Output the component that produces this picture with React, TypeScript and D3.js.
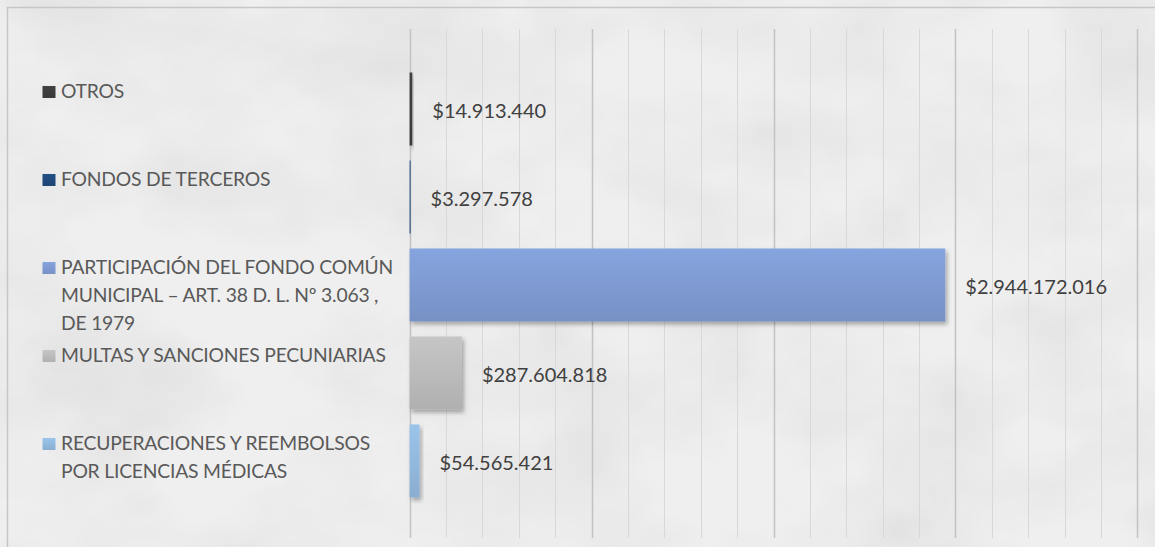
import React, { useEffect, useRef } from "react";
import * as d3 from "d3";

// categories, top to bottom as drawn
const categories = [
  "OTROS",
  "FONDOS DE TERCEROS",
  "PARTICIPACIÓN DEL FONDO COMÚN MUNICIPAL – ART. 38 D. L. Nº 3.063 , DE 1979",
  "MULTAS Y SANCIONES PECUNIARIAS",
  "RECUPERACIONES Y REEMBOLSOS POR LICENCIAS MÉDICAS",
];

// label text as it wraps in the picture
const labelLines = [
  ["OTROS"],
  ["FONDOS DE TERCEROS"],
  ["PARTICIPACIÓN DEL FONDO COMÚN", "MUNICIPAL – ART. 38 D. L. Nº 3.063 ,", "DE 1979"],
  ["MULTAS Y SANCIONES PECUNIARIAS"],
  ["RECUPERACIONES Y REEMBOLSOS", "POR LICENCIAS MÉDICAS"],
];

const values = [14913440, 3297578, 2944172016, 287604818, 54565421];

const axisMax = 4000000000;

const barColors = ["#3d3d3d", "#1f4a7c", "#7f9bd2", "#bcbcbc", "#93badf"];

const W = 1155;
const H = 547;
const FONT = "Lato, Carlito, Calibri, sans-serif";

const clp = d3.formatLocale({
  decimal: ",",
  thousands: ".",
  grouping: [3],
  currency: ["$", ""],
});
const money = clp.format("$,.0f");

export default function App() {
  const ref = useRef<SVGSVGElement>(null);

  useEffect(() => {
    if (!ref.current) return;
    const svg = d3.select(ref.current);
    svg.selectAll("*").remove();

    const plot = { left: 409.6, right: 1137.4, top: 29, bottom: 538 };

    const x = d3.scaleLinear().domain([0, axisMax]).range([plot.left, plot.right]);
    const y = d3
      .scaleBand<number>()
      .domain(d3.range(categories.length))
      .range([65, 505])
      .paddingInner(0.17)
      .paddingOuter(0.085);

    const defs = svg.append("defs");

    // paper-like texture
    const tex = defs.append("filter").attr("id", "tex").attr("x", 0).attr("y", 0)
      .attr("width", "100%").attr("height", "100%");
    tex.append("feTurbulence").attr("type", "fractalNoise")
      .attr("baseFrequency", "0.006 0.009").attr("numOctaves", 4).attr("seed", 7);
    tex.append("feColorMatrix").attr("type", "matrix")
      .attr("values", "0 0 0 0 0.5  0 0 0 0 0.5  0 0 0 0 0.5  0.3 0.3 0.3 0 -0.39");

    const shadow = defs.append("filter").attr("id", "shadow")
      .attr("x", "-20%").attr("y", "-20%").attr("width", "160%").attr("height", "160%");
    shadow.append("feDropShadow").attr("dx", 2).attr("dy", 3)
      .attr("stdDeviation", 2).attr("flood-color", "#000").attr("flood-opacity", 0.3);

    barColors.forEach((c, i) => {
      const g = defs.append("linearGradient").attr("id", `bar${i}`)
        .attr("x1", 0).attr("y1", 0).attr("x2", 0).attr("y2", 1);
      g.append("stop").attr("offset", "0%").attr("stop-color", d3.color(c)!.brighter(0.15).formatHex());
      g.append("stop").attr("offset", "100%").attr("stop-color", d3.color(c)!.darker(0.18).formatHex());
    });

    svg.append("rect").attr("width", W).attr("height", H).attr("fill", "#efefef");
    svg.append("rect").attr("width", W).attr("height", H).attr("filter", "url(#tex)");

    // chart frame
    svg.append("path")
      .attr("d", `M7.5,${H} V7.5 H${W}`)
      .attr("fill", "none")
      .attr("stroke", "#c6c6c6")
      .attr("stroke-width", 1.5);

    // gridlines: minor every 200M, major every 1000M
    svg.append("g").selectAll("line")
      .data(x.ticks(20))
      .join("line")
      .attr("x1", (d) => Math.round(x(d)) + 0.5)
      .attr("x2", (d) => Math.round(x(d)) + 0.5)
      .attr("y1", plot.top)
      .attr("y2", plot.bottom)
      .attr("stroke", (d) => (d % 1000000000 === 0 ? "#c2c2c2" : "#d8d8d8"))
      .attr("stroke-width", (d) => (d % 1000000000 === 0 ? 1.5 : 1));

    // bars
    svg.append("g").selectAll("rect")
      .data(values)
      .join("rect")
      .attr("x", x(0))
      .attr("y", (_, i) => y(i)!)
      .attr("width", (d) => Math.max(1, x(d) - x(0)))
      .attr("height", y.bandwidth())
      .attr("fill", (_, i) => `url(#bar${i})`)
      .attr("filter", "url(#shadow)");

    // value labels
    svg.append("g").selectAll("text")
      .data(values)
      .join("text")
      .attr("x", (d) => Math.max(x(d), x(0) + 1) + 20)
      .attr("y", (_, i) => y(i)! + y.bandwidth() / 2 + 8.5)
      .attr("font-family", FONT)
      .attr("font-size", 20)
      .attr("fill", "#404040")
      .text((d) => money(d));

    // category labels with colour keys
    const lab = svg.append("g").selectAll("g")
      .data(labelLines)
      .join("g")
      .attr("transform", (_, i) => `translate(0,${y(i)! + 26})`);

    lab.append("rect")
      .attr("x", 42.5)
      .attr("y", -12.5)
      .attr("width", 13)
      .attr("height", 12)
      .attr("fill", (_, i) => `url(#bar${i})`);

    lab.selectAll("text")
      .data((d) => d)
      .join("text")
      .attr("x", 61)
      .attr("y", (_, j) => j * 27.8)
      .attr("font-family", FONT)
      .attr("font-size", 19.3)
      .attr("letter-spacing", -0.2)
      .attr("fill", "#595959")
      .text((d) => d);
  }, []);

  return (
    <svg
      ref={ref}
      width={W}
      height={H}
      style={{ position: "fixed", left: 0, top: 0, display: "block" }}
    ></svg>
  );
}
